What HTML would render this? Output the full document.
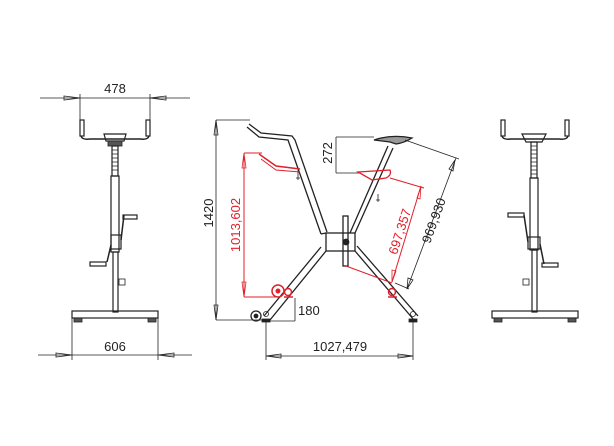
<!DOCTYPE html>
<html><head><style>
html,body{margin:0;padding:0;background:#fff;width:614px;height:446px;overflow:hidden}
text{font-family:"Liberation Sans",sans-serif;font-size:13px}
</style></head><body>
<svg width="614" height="446" viewBox="0 0 614 446" xmlns="http://www.w3.org/2000/svg">
<g fill="none" stroke="#222" stroke-width="0.8">
<!-- LEFT VIEW -->
<line x1="40" y1="98" x2="190" y2="98"/>
<line x1="80" y1="94" x2="80" y2="128"/><line x1="150" y1="94" x2="150" y2="128"/>
<path d="M64 96 L80 98 L64 100 Z M166 96 L150 98 L166 100 Z"/>
<rect x="80" y="120" width="4" height="16" stroke-width="1.2"/>
<rect x="146" y="120" width="4" height="16" stroke-width="1.2"/>
<path d="M81 136 Q82 140 90 139 L140 139 Q148 140 149 136" stroke-width="1.5"/>
<path d="M104 134 L126 134 L124 141 L106 141 Z" stroke-width="1.2"/>
<rect x="108" y="141" width="14" height="5" fill="#555"/>
<rect x="112" y="146" width="6" height="30" stroke-width="1.2"/>
<path d="M112 150 h6 M112 154 h6 M112 158 h6 M112 162 h6 M112 166 h6 M112 170 h6"/>
<rect x="111" y="176" width="8" height="76" stroke-width="1.2"/>
<rect x="113" y="252" width="5" height="60" stroke-width="1.2"/>
<rect x="111" y="235" width="10" height="14" stroke-width="1.2"/>
<path d="M121 240 L124 215 M111 245 L107 262" stroke-width="1.5"/>
<rect x="123" y="215" width="14" height="4" stroke-width="1.2"/>
<rect x="90" y="262" width="16" height="4" stroke-width="1.2"/>
<rect x="119" y="279" width="6" height="6"/>
<rect x="72" y="311" width="86" height="7" stroke-width="1.2"/>
<rect x="74" y="318" width="8" height="4" fill="#555"/><rect x="148" y="318" width="8" height="4" fill="#555"/>
<line x1="72" y1="318" x2="72" y2="360"/><line x1="158" y1="318" x2="158" y2="360"/>
<line x1="38" y1="355" x2="192" y2="355"/>
<path d="M56 353 L72 355 L56 357 Z M174 353 L158 355 L174 357 Z"/>

<!-- RIGHT VIEW -->
<rect x="501" y="120" width="4" height="16" stroke-width="1.2"/>
<rect x="565" y="120" width="4" height="16" stroke-width="1.2"/>
<path d="M502 136 Q503 140 511 139 L559 139 Q567 140 568 136" stroke-width="1.5"/>
<path d="M522 134 L546 134 L542 142 L526 142 Z" stroke-width="1.2"/>
<rect x="531" y="142" width="6" height="36" stroke-width="1.2"/>
<path d="M531 146 h6 M531 150 h6 M531 154 h6 M531 158 h6 M531 162 h6 M531 166 h6 M531 170 h6 M531 174 h6"/>
<rect x="530" y="178" width="8" height="72" stroke-width="1.2"/>
<rect x="532" y="250" width="5" height="62" stroke-width="1.2"/>
<rect x="528" y="237" width="12" height="12" stroke-width="1.2"/>
<path d="M528 242 L524 215 M540 244 L544 264" stroke-width="1.5"/>
<rect x="508" y="213" width="16" height="4" stroke-width="1.2"/>
<rect x="542" y="263" width="16" height="4" stroke-width="1.2"/>
<rect x="523" y="279" width="6" height="6"/>
<rect x="492" y="311" width="86" height="7" stroke-width="1.2"/>
<rect x="494" y="318" width="8" height="4" fill="#555"/><rect x="568" y="318" width="8" height="4" fill="#555"/>

<!-- MAIN VIEW frame -->
<g stroke-width="1.3">
<path d="M249 124 L261 133 L292 136 L295 140 L327 232"/>
<path d="M247 127 L259 137 L288 140 L321 234"/>
<rect x="326" y="233" width="29" height="18"/>
<path d="M321 234 L326 233 M355 233 L393 148 M350 233 L388 146"/>
<path d="M326 251 L270 320 M321 247 L264 316"/>
<path d="M355 251 L414 320 M357 246 L418 316"/>
<rect x="343" y="216" width="5" height="50"/>
</g>
<circle cx="346" cy="242" r="3" fill="#222"/>
<path d="M374 140 Q392 134 412 138 Q404 143 396 144 L390 142 Z" stroke-width="1.3" fill="#999"/>
<circle cx="256" cy="316" r="5" stroke-width="1.3"/><circle cx="256" cy="316" r="2" fill="#222"/>
<circle cx="266" cy="314" r="2.5"/><circle cx="413" cy="314" r="2.5"/>
<rect x="262" y="319" width="8" height="3" fill="#222"/><rect x="409" y="319" width="8" height="3" fill="#222"/>
<path d="M298 170 l0 10 M296 178 l4 0 M378 194 l0 8 M376 200 l4 0"/>
<!-- dims black -->
<line x1="216" y1="120" x2="250" y2="120"/><line x1="216" y1="320" x2="264" y2="320"/>
<line x1="216" y1="120" x2="216" y2="320"/>
<path d="M214 135 L216 120 L218 135 Z M214 305 L216 320 L218 305 Z"/>
<line x1="336" y1="137" x2="374" y2="137"/><line x1="336" y1="173" x2="360" y2="173"/>
<line x1="336" y1="137" x2="336" y2="173"/>
<line x1="295" y1="298" x2="295" y2="321"/><line x1="270" y1="321" x2="295" y2="321"/>
<line x1="266" y1="322" x2="266" y2="360"/><line x1="413" y1="322" x2="413" y2="360"/>
<line x1="266" y1="356" x2="413" y2="356"/>
<path d="M281 354 L266 356 L281 358 Z M398 354 L413 356 L398 358 Z"/>
<line x1="405" y1="140" x2="459" y2="159"/>
<line x1="456" y1="158" x2="407" y2="289"/>
<line x1="395" y1="283" x2="409" y2="289"/>
<path d="M449 169 L455 160 L453 171 Z M408 278 L407 289 L413 280 Z"/>
</g>
<!-- red -->
<g fill="none" stroke="#e0202a" stroke-width="1">
<path d="M259 154 L276 166 L300 169" stroke-width="1.5"/>
<path d="M261 159 L276 170 L300 172" stroke-width="1"/>
<line x1="244" y1="153" x2="262" y2="153"/><line x1="244" y1="297" x2="276" y2="297"/>
<line x1="244" y1="153" x2="244" y2="297"/>
<path d="M242 168 L244 153 L246 168 Z M242 282 L244 297 L246 282 Z" stroke-width="0.8"/>
<path d="M358 172 L390 170 Q392 175 386 178 L372 180 Z" stroke-width="1.3"/>
<line x1="346" y1="266" x2="392" y2="283"/>
<line x1="390" y1="178" x2="424" y2="188"/>
<line x1="421" y1="186" x2="392" y2="282"/>
<path d="M417 198 L421 186 L420 199 Z M392 270 L392 282 L396 271 Z" stroke-width="0.8"/>
<circle cx="278" cy="291" r="6" stroke-width="1.5"/><circle cx="278" cy="291" r="2" fill="#e0202a"/>
<circle cx="288" cy="292" r="3.5" stroke-width="1.5"/>
<circle cx="392" cy="292" r="3.5" stroke-width="1.5"/>
<path d="M284 297 h9 M388 297 h9" stroke-width="1.5"/>
</g>
<g fill="#222">
<text x="115" y="93" text-anchor="middle">478</text>
<text x="115" y="351" text-anchor="middle">606</text>
<text x="298" y="315">180</text>
<text x="340" y="351" text-anchor="middle">1027,479</text>
<text transform="translate(213,213) rotate(-90)" text-anchor="middle">1420</text>
<text transform="translate(332,153) rotate(-90)" text-anchor="middle">272</text>
<text transform="translate(438,222) rotate(-70)" text-anchor="middle">969,930</text>
<text transform="translate(240,225) rotate(-90)" text-anchor="middle" fill="#e0202a">1013,602</text>
<text transform="translate(404,233) rotate(-72)" text-anchor="middle" fill="#e0202a">697,357</text>
</g>
</svg>
</body></html>
